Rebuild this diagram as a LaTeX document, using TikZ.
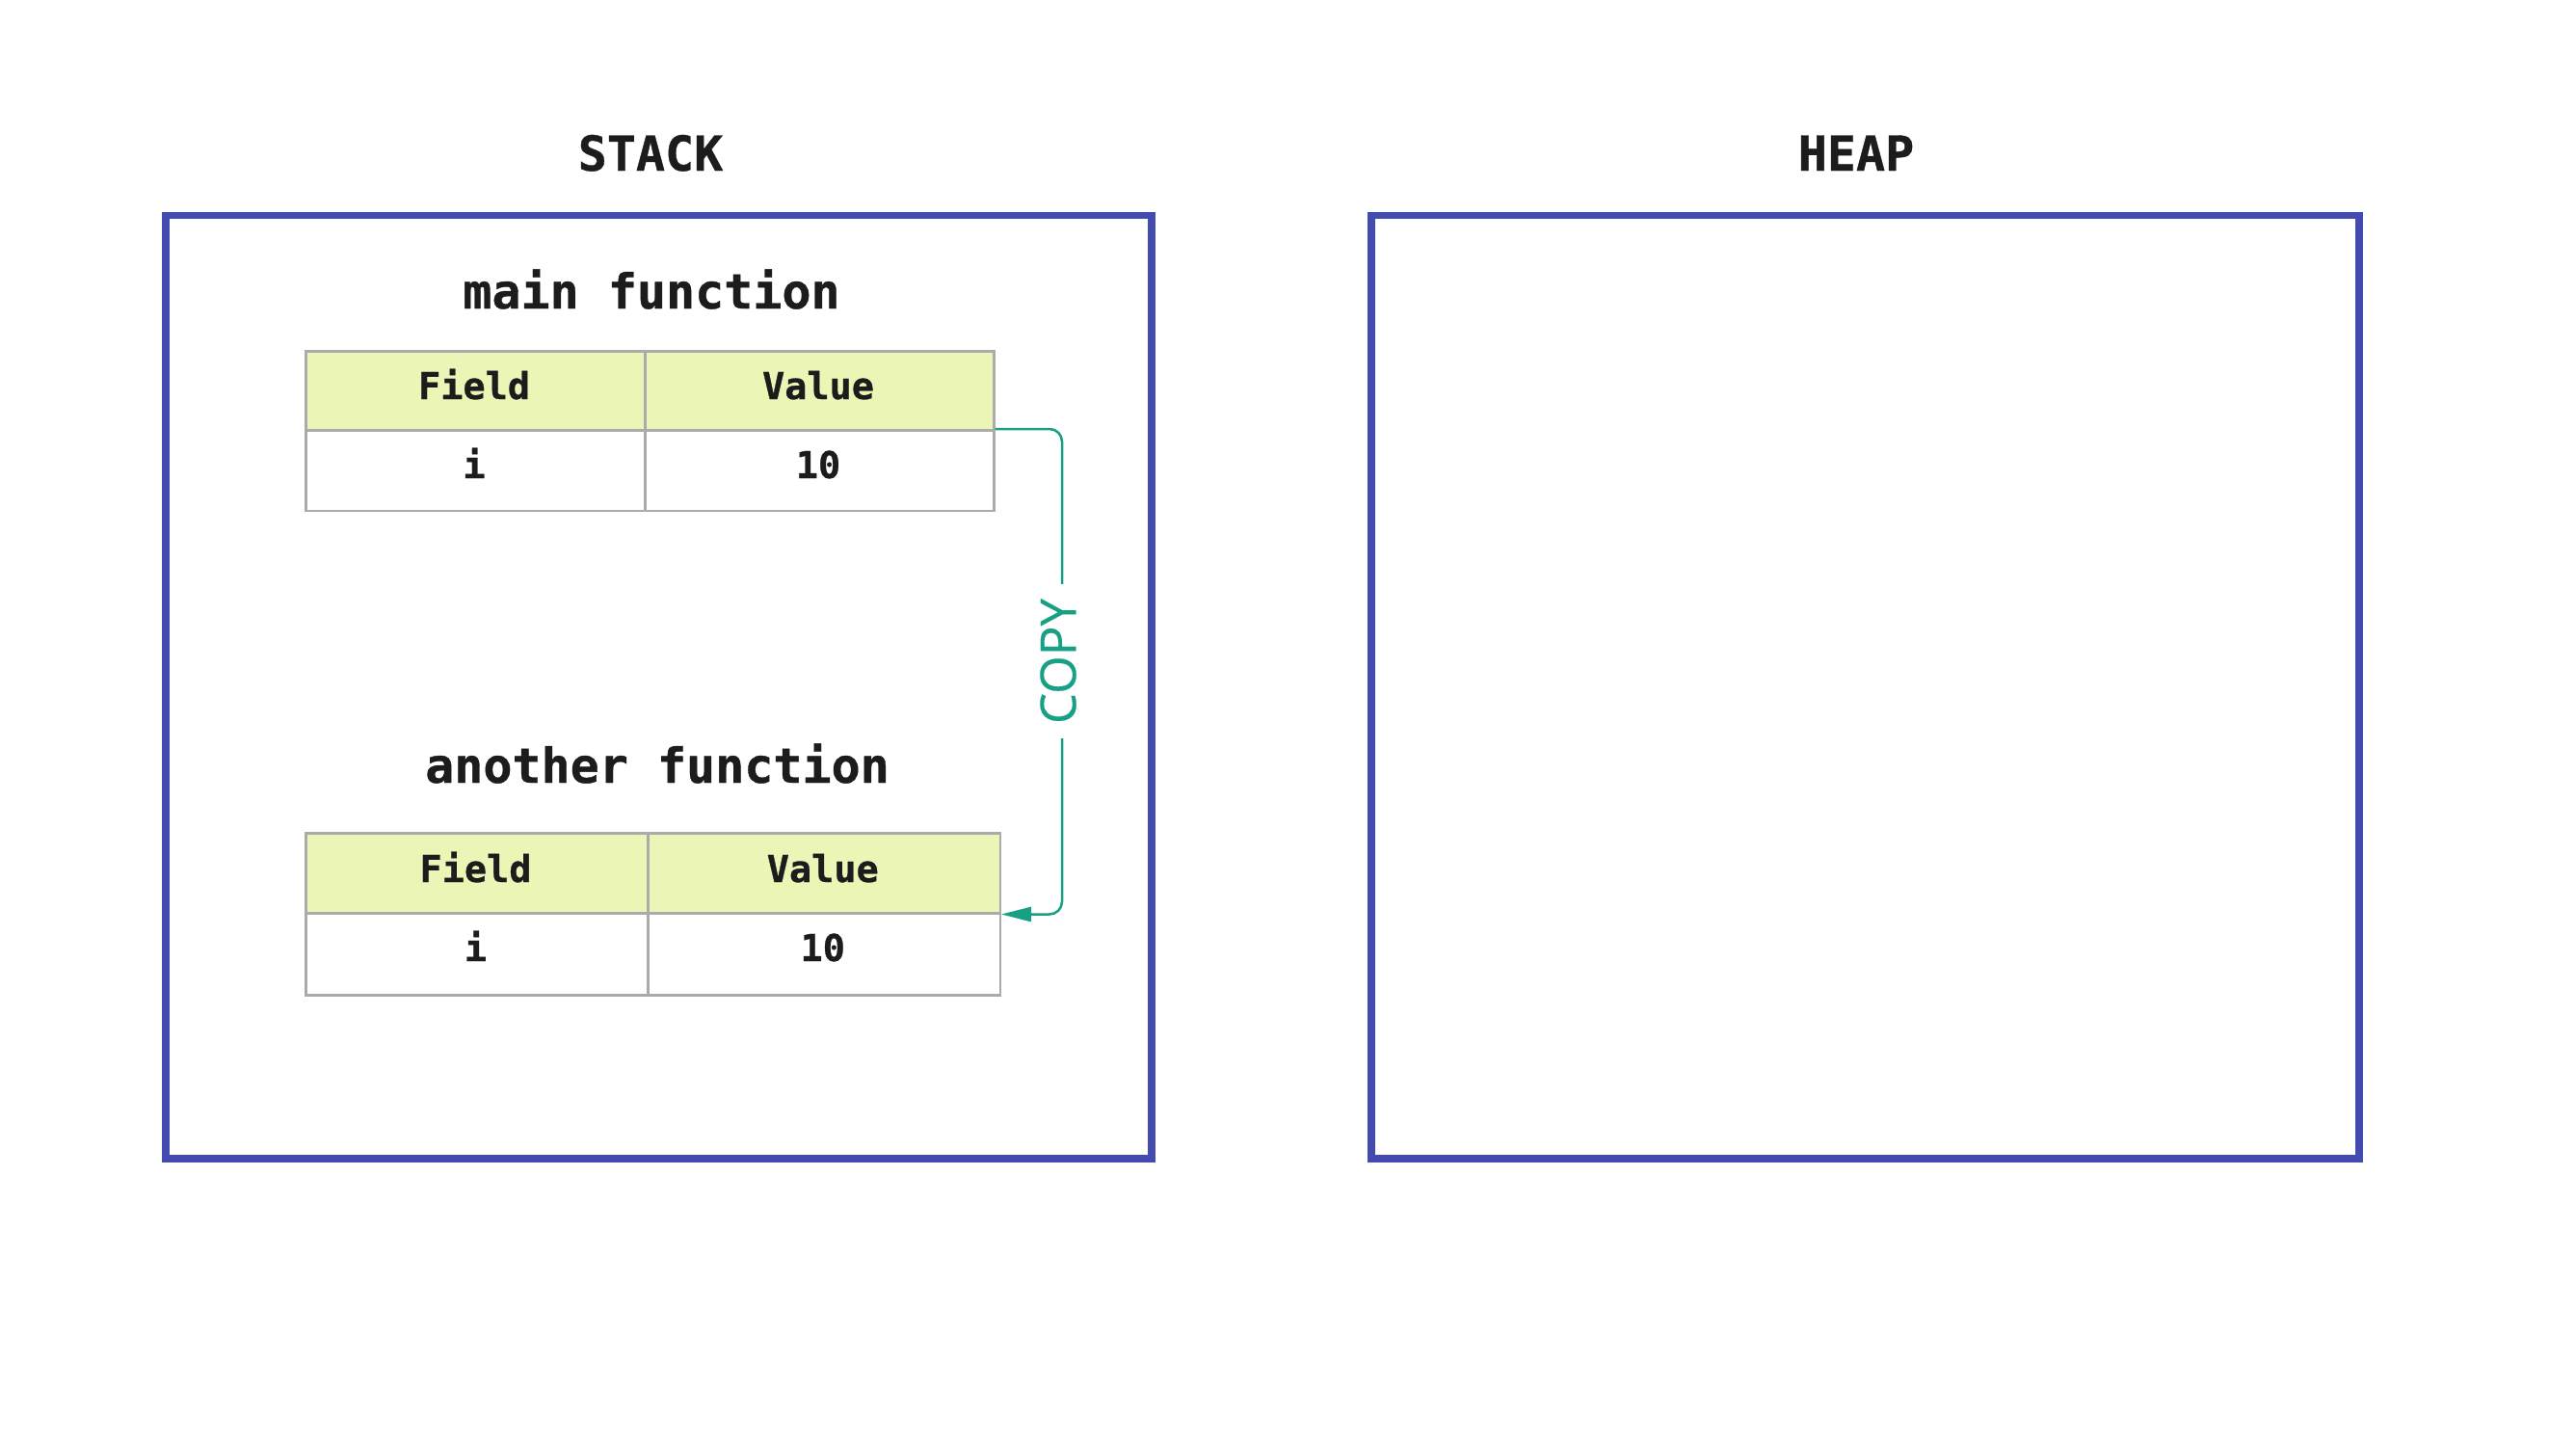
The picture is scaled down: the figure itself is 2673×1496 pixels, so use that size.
\documentclass[tikz,border=0pt]{standalone}
\usepackage{fontspec}
\setmainfont{DejaVu Sans}
\newfontfamily\codefont{DejaVu Sans Mono}[BoldFeatures={FakeBold=0.7}]
\newfontfamily\copyfont{Open Sans}[FakeBold=0.3]
\usetikzlibrary{arrows.meta}
\definecolor{boxblue}{HTML}{444BB0}
\definecolor{hdrfill}{HTML}{EBF5B6}
\definecolor{cellline}{HTML}{ABABAB}
\definecolor{copyteal}{HTML}{17A083}
\definecolor{ink}{HTML}{1C1C1C}
\begin{document}
\begin{tikzpicture}[x=1pt,y=-1pt,
  memframe/.style={draw=boxblue,line width=7.5pt},
  title/.style={font=\codefont\bfseries\fontsize{50}{60}\selectfont,text=ink,anchor=base,inner sep=0pt},
  celltext/.style={font=\codefont\bfseries\fontsize{38.5}{46}\selectfont,text=ink,anchor=base,inner sep=0pt},
  cellbase/.style={draw=cellline,line width=2.5pt,anchor=north west,inner sep=0pt},
  hdrcell/.style={cellbase,fill=hdrfill},
  rowcell/.style={cellbase,fill=white},
  conn/.style={draw=copyteal,line width=2.5pt,rounded corners=13pt,-{Triangle[length=31pt,width=15pt]}},
  copylabel/.style={rotate=90,fill=white,inner xsep=15pt,inner ysep=2pt,text=copyteal,font=\copyfont\fontsize{51}{60}\selectfont}]
\useasboundingbox (0,0) rectangle (2673,1496);
\fill[white] (0,0) rectangle (2673,1496);

% memory areas
\node[title] (stacktitle) at (675,177) {STACK};
\node[title] (heaptitle) at (1926,177) {HEAP};
\draw[memframe] (172,223.5) rectangle (1195,1202);
\node[draw=none,inner sep=0pt] (stackbox) at (683.5,712) {};
\draw[memframe] (1423,223.5) rectangle (2448,1202);
\node[draw=none,inner sep=0pt] (heapbox) at (1935.5,712) {};

% main function
\node[title] (mainfn) at (676,320) {main function};
\node[hdrcell,minimum width=352pt,minimum height=82pt] (t1h1) at (316,363) {};
\node[hdrcell,minimum width=362pt,minimum height=82pt] (t1h2) at (668,363) {};
\node[rowcell,minimum width=352pt,minimum height=83.5pt] (t1r1) at (316,445) {};
\node[rowcell,minimum width=362pt,minimum height=83.5pt] (t1r2) at (668,445) {};
\node[celltext] (t1h1t) at (492,414) {Field};
\node[celltext] (t1h2t) at (849,414) {Value};
\node[celltext] (t1r1t) at (492,496) {i};
\node[celltext] (t1r2t) at (849,496) {10};

% another function
\node[title] (anotherfn) at (682,812) {another function};
\node[hdrcell,minimum width=355pt,minimum height=83pt] (t2h1) at (316,863) {};
\node[hdrcell,minimum width=365.5pt,minimum height=83pt] (t2h2) at (671,863) {};
\node[rowcell,minimum width=355pt,minimum height=85pt] (t2r1) at (316,946) {};
\node[rowcell,minimum width=365.5pt,minimum height=85pt] (t2r2) at (671,946) {};
\node[celltext] (t2h1t) at (493.5,915) {Field};
\node[celltext] (t2h2t) at (853.75,915) {Value};
\node[celltext] (t2r1t) at (493.5,997) {i};
\node[celltext] (t2r2t) at (853.75,997) {10};

% copy connector
\coordinate (bend) at (1102,686);
\draw[conn] (t1r2.north east) -| (bend) |- (t2h2.south east);
\node[copylabel] (copylbl) at (1098,686) {COPY};
\end{tikzpicture}
\end{document}
